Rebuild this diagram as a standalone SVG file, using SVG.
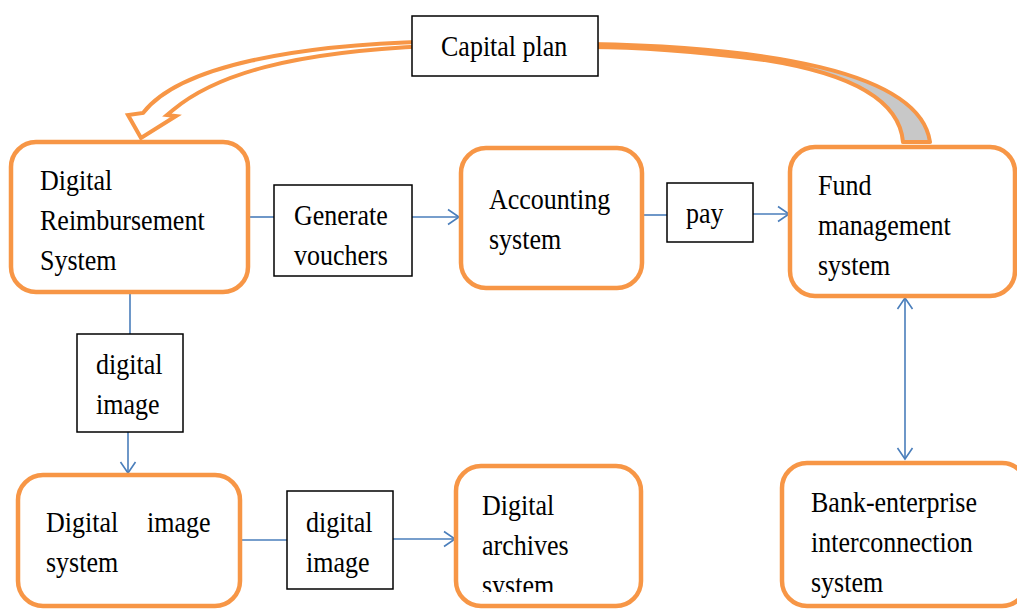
<svg xmlns="http://www.w3.org/2000/svg" width="1017" height="609" viewBox="0 0 1017 609">
  <defs>
    <style>
      .sys { fill: #ffffff; stroke: #F79646; stroke-width: 4.5; }
      .lbl { fill: #ffffff; stroke: #000000; stroke-width: 1.5; }
      .txt { font-family: "Liberation Serif", "Times New Roman", serif; font-size: 26px; fill: #000000; }
      .link { fill: none; stroke: #4A7EBB; stroke-width: 1.6; }
      .flow { fill: #ffffff; stroke: #F79646; stroke-width: 4; stroke-linejoin: miter; }
      .flow-back { fill: #C8C8C8; stroke: #F79646; stroke-width: 4; stroke-linejoin: round; }
    </style>
    <marker id="open-arrow" markerUnits="userSpaceOnUse" markerWidth="14" markerHeight="18" viewBox="0 0 14 18" refX="12" refY="9" orient="auto-start-reverse">
      <path d="M1,1.5 L12,9 L1,16.5" fill="none" stroke="#4A7EBB" stroke-width="1.6"/>
    </marker>
    <clipPath id="archives-clip">
      <rect x="456" y="466" width="185" height="126"/>
    </clipPath>
  </defs>

  <rect width="1017" height="609" fill="#ffffff"/>

  <!-- curved capital-plan arrow, drawn behind the label box -->
  <g id="capital-flow">
    <path class="flow-back" d="M590,44 C760,47 920,70 930,142 L903,142 C900,105 860,75 765,60 C700,52 640,47 590,47 Z"/>
    <path class="flow" d="M430,41.5 C300,45 180,65 143,113 L128,115 L141,138 L176,116 L167,115 L173,110 C215,75 290,52 430,46 Z"/>
  </g>

  <g id="connectors">
    <path class="link" d="M248,217 H274"/>
    <path class="link" d="M412,217 H459" marker-end="url(#open-arrow)"/>
    <path class="link" d="M642,215 H667"/>
    <path class="link" d="M753,214 H789" marker-end="url(#open-arrow)"/>
    <path class="link" d="M130,292 V334"/>
    <path class="link" d="M128,432 V473" marker-end="url(#open-arrow)"/>
    <path class="link" d="M240,540 H287"/>
    <path class="link" d="M393,539 H455" marker-end="url(#open-arrow)"/>
    <path class="link" d="M905,298 V459" marker-start="url(#open-arrow)" marker-end="url(#open-arrow)"/>
  </g>

  <g id="capital-plan">
    <rect class="lbl" x="412" y="16" width="186" height="60"/>
    <text class="txt" transform="translate(441 56) scale(1 1.1)">Capital plan</text>
  </g>

  <g id="reimbursement">
    <rect class="sys" x="11" y="142" width="237" height="150" rx="25"/>
    <text class="txt" transform="translate(40 190) scale(1 1.1)"><tspan x="0">Digital</tspan><tspan x="0" dy="36.4">Reimbursement</tspan><tspan x="0" dy="36.4">System</tspan></text>
  </g>

  <g id="generate-vouchers">
    <rect class="lbl" x="274" y="185" width="138" height="91"/>
    <text class="txt" transform="translate(294 225) scale(1 1.1)"><tspan x="0">Generate</tspan><tspan x="0" dy="36.4">vouchers</tspan></text>
  </g>

  <g id="accounting">
    <rect class="sys" x="461" y="148" width="181" height="140" rx="25"/>
    <text class="txt" transform="translate(489 209) scale(1 1.1)"><tspan x="0">Accounting</tspan><tspan x="0" dy="36.4">system</tspan></text>
  </g>

  <g id="pay">
    <rect class="lbl" x="667" y="183" width="86" height="59"/>
    <text class="txt" transform="translate(686 223) scale(1 1.1)">pay</text>
  </g>

  <g id="fund-management">
    <rect class="sys" x="790" y="147" width="225" height="149" rx="25"/>
    <text class="txt" transform="translate(818 195) scale(1 1.1)"><tspan x="0">Fund</tspan><tspan x="0" dy="36.4">management</tspan><tspan x="0" dy="36.4">system</tspan></text>
  </g>

  <g id="digital-image-label-1">
    <rect class="lbl" x="77" y="334" width="106" height="98"/>
    <text class="txt" transform="translate(96 374) scale(1 1.1)"><tspan x="0">digital</tspan><tspan x="0" dy="36.4">image</tspan></text>
  </g>

  <g id="digital-image-system">
    <rect class="sys" x="18" y="475" width="222" height="131" rx="25"/>
    <text class="txt" transform="translate(46 532) scale(1 1.1)"><tspan x="0">Digital</tspan><tspan x="101">image</tspan><tspan x="0" dy="36.4">system</tspan></text>
  </g>

  <g id="digital-image-label-2">
    <rect class="lbl" x="287" y="491" width="106" height="98"/>
    <text class="txt" transform="translate(306 532) scale(1 1.1)"><tspan x="0">digital</tspan><tspan x="0" dy="36.4">image</tspan></text>
  </g>

  <g id="digital-archives">
    <rect class="sys" x="456" y="466" width="185" height="140" rx="25"/>
    <g clip-path="url(#archives-clip)">
      <text class="txt" transform="translate(482 515) scale(1 1.1)"><tspan x="0">Digital</tspan><tspan x="0" dy="36.4">archives</tspan><tspan x="0" dy="36.4">system</tspan></text>
    </g>
  </g>

  <g id="bank-enterprise">
    <rect class="sys" x="782" y="463" width="245" height="143" rx="25"/>
    <text class="txt" transform="translate(811 512) scale(1 1.1)"><tspan x="0">Bank-enterprise</tspan><tspan x="0" dy="36.4">interconnection</tspan><tspan x="0" dy="36.4">system</tspan></text>
  </g>
</svg>
